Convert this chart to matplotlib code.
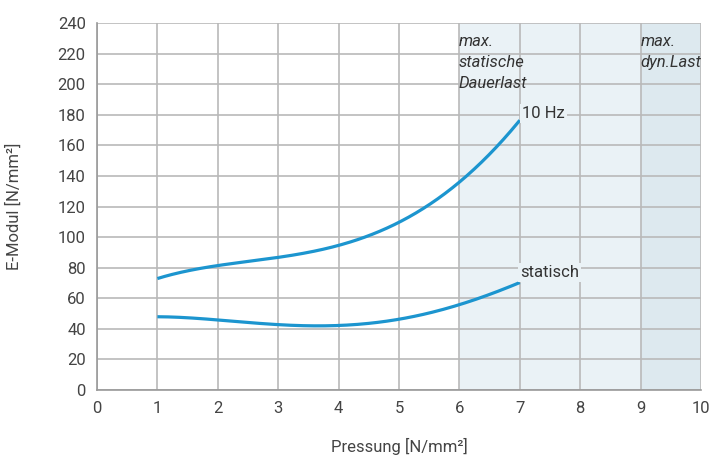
import matplotlib
matplotlib.use("Agg")
import matplotlib.pyplot as plt
import numpy as np

plt.rcParams['font.family'] = ['Roboto', 'DejaVu Sans']

# data
x_pts = [1, 2, 3, 4, 4.5, 5, 5.5, 6, 6.5, 7]
hz10 = [73, 81, 87, 95, 101, 109, 121, 136, 155, 176]
statisch = [48, 45.5, 43, 42.5, 43.5, 46, 50, 56, 63, 70]
x_ticks = list(range(0, 11))
y_ticks = list(range(0, 241, 20))

fig = plt.figure(figsize=(7.1, 4.59), dpi=100)
ax = fig.add_axes([0.1366, 0.1503, 0.8507, 0.7996])

ax.axvspan(6, 9, color='#eaf2f6', zorder=0, lw=0)
ax.axvspan(9, 10, color='#dde9ef', zorder=0, lw=0)

ax.set_xlim(0, 10)
ax.set_ylim(0, 240)
ax.set_xticks(x_ticks)
ax.set_yticks(y_ticks)
ax.grid(True, color='#b9b9b9', lw=1.2, zorder=1)
ax.tick_params(length=0, labelsize=12, colors='#444444', pad=8)
for s in ['top', 'right']:
    ax.spines[s].set_visible(False)
for s in ['left', 'bottom']:
    ax.spines[s].set_color('#999999')
    ax.spines[s].set_linewidth(1.2)

# smooth curves through the read points
def smooth(xs, ys):
    xs = np.array(xs, float); ys = np.array(ys, float)
    xx = np.linspace(xs[0], xs[-1], 200)
    coef = np.polyfit(xs, ys, 4)
    return xx, np.polyval(coef, xx)

for ys in (hz10, statisch):
    xx, yy = smooth(x_pts, ys)
    ax.plot(xx, yy, color='#1c95cf', lw=2.3, zorder=3, solid_capstyle='butt')

ax.text(7.04, 180.5, '10 Hz', fontsize=12, color='#333333', va='center', ha='left',
        bbox=dict(facecolor='#eaf2f6', edgecolor='none', pad=1.5), zorder=4)
ax.text(7.0, 77, 'statisch', fontsize=12, color='#333333', va='center', ha='left',
        bbox=dict(facecolor='#eaf2f6', edgecolor='none', pad=1.5), zorder=4)

ax.text(5.99, 233, 'max.\nstatische\nDauerlast', fontsize=12, style='italic',
        color='#333333', va='top', ha='left', linespacing=1.5, zorder=4)
ax.text(9.0, 233, 'max.\ndyn.Last', fontsize=12, style='italic',
        color='#333333', va='top', ha='left', linespacing=1.5, zorder=4)

ax.set_xlabel('Pressung [N/mm²]', fontsize=12, color='#444444', labelpad=16)
ax.set_ylabel('E-Modul [N/mm²]', fontsize=12, color='#444444', labelpad=26)

fig.savefig('out.png', dpi=100)
